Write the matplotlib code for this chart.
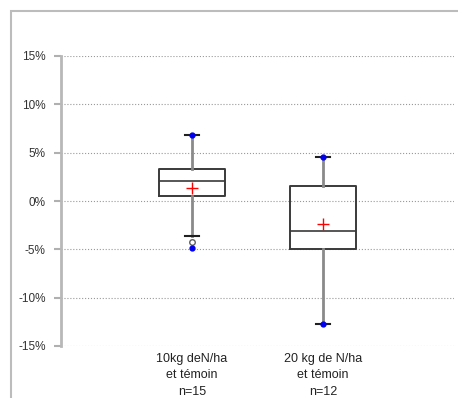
import matplotlib.pyplot as plt
from matplotlib.patches import Rectangle
from matplotlib.ticker import FuncFormatter

# values (in %)
labels = ["10kg deN/ha\net témoin\nn=15", "20 kg de N/ha\net témoin\nn=12"]
whislo = [-3.6, -12.7]
q1 = [0.5, -5.0]
med = [2.05, -3.1]
q3 = [3.3, 1.6]
whishi = [6.8, 4.6]
means = [1.3, -2.4]
fliers = [[-4.2], []]
mins = [-4.9, -12.7]
maxs = [6.8, 4.6]

stats = []
for i in range(len(labels)):
    stats.append(dict(whislo=whislo[i], q1=q1[i], med=med[i], q3=q3[i],
                      whishi=whishi[i], fliers=fliers[i], mean=means[i]))

plt.rcParams['font.family'] = ['Liberation Sans', 'DejaVu Sans']

fig = plt.figure(figsize=(4.58, 3.98), dpi=100)
ax = fig.add_axes([61/458, 52/398, (454-61)/458, 290/398])

# outer chart frame
fig.patches.append(Rectangle((11/458, -0.1), 1.2, (398-11)/398 + 0.1,
                             transform=fig.transFigure, fill=False,
                             edgecolor='#bcbcbc', linewidth=1.5))

pos = [1, 2]
ax.bxp(stats, positions=pos, widths=0.5, showmeans=True, showfliers=True,
       capwidths=0.11,
       boxprops=dict(color='#3a3a3a', linewidth=1.4),
       medianprops=dict(color='#3a3a3a', linewidth=1.2),
       whiskerprops=dict(color='#8a8a8a', linewidth=2),
       capprops=dict(color='#202020', linewidth=1.5),
       meanprops=dict(marker='+', markeredgecolor='red', markersize=9,
                      markeredgewidth=1),
       flierprops=dict(marker='o', markerfacecolor='none',
                       markeredgecolor='#606060', markersize=4))
ax.plot(pos, mins, 'o', color='#0000ee', markersize=3.5, zorder=5)
ax.plot(pos, maxs, 'o', color='#0000ee', markersize=3.5, zorder=5)

ax.set_xlim(0, 3)
ax.set_ylim(-15, 15)
ax.set_yticks([-15, -10, -5, 0, 5, 10, 15])
ax.yaxis.set_major_formatter(FuncFormatter(lambda v, p: f"{v:.0f}%"))
ax.set_xticks(pos)
ax.set_xticklabels(labels, linespacing=1.5)
ax.tick_params(axis='x', length=0, pad=5, labelsize=9, colors='#222222')
ax.tick_params(axis='y', length=5, width=1.5, color='#b0b0b0',
               labelsize=8.5, labelcolor='#333333', pad=6)

ax.grid(axis='y', linestyle=':', color='#999999', linewidth=0.8)
ax.set_axisbelow(True)
for s in ['top', 'right', 'bottom']:
    ax.spines[s].set_visible(False)
ax.spines['left'].set_color('#b8b8b8')
ax.spines['left'].set_linewidth(2)

fig.savefig("out.png", dpi=100)
